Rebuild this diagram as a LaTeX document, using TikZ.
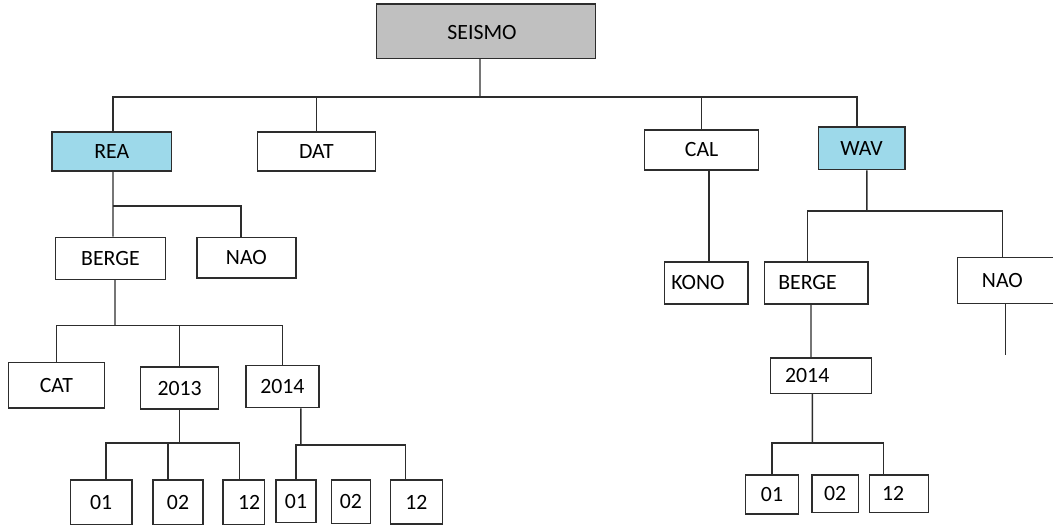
\documentclass[tikz,border=0pt]{standalone}
\usepackage{fontspec}
\setmainfont{Carlito}
\definecolor{rootgrey}{RGB}{192,192,192}
\definecolor{keyblue}{RGB}{157,217,234}
\definecolor{edgegrey}{RGB}{45,45,45}
\tikzset{
  dirbox/.style={draw=edgegrey, line width=1pt, inner sep=0pt},
  keybox/.style={dirbox, fill=keyblue},
  rootbox/.style={dirbox, fill=rootgrey},
  wire/.style={draw=edgegrey, line width=1pt}
}
\begin{document}
\begin{tikzpicture}[font=\fontsize{15.5}{18}\selectfont]
  \useasboundingbox (0,0) rectangle (26.325,-13.25);
  \clip (0,0) rectangle (26.325,-13.25);

  % top level
  \node[rootbox, minimum width=5.47cm, minimum height=1.36cm, label={[xshift=-1mm, yshift=-0.3mm]center:SEISMO}] (seismo) at (12.15,-0.78) {};
  \node[keybox, minimum width=2.98cm, minimum height=0.98cm] (rea) at (2.795,-3.79) {REA};
  \node[dirbox, minimum width=2.94cm, minimum height=0.98cm] (dat) at (7.91,-3.79) {DAT};
  \node[dirbox, minimum width=2.85cm, minimum height=0.99cm] (cal) at (17.54,-3.75) {CAL};
  \node[keybox, minimum width=2.17cm, minimum height=1.06cm] (wav) at (21.54,-3.71) {WAV};

  % REA branch
  \node[dirbox, minimum width=2.75cm, minimum height=1.05cm] (berge1) at (2.76,-6.46) {BERGE};
  \node[dirbox, minimum width=2.48cm, minimum height=1.01cm] (nao1) at (6.16,-6.44) {NAO};
  \node[dirbox, minimum width=2.4cm, minimum height=1.14cm] (cat) at (1.41,-9.63) {CAT};
  \node[dirbox, minimum width=1.95cm, minimum height=1.05cm] (y2013a) at (4.49,-9.7) {2013};
  \node[dirbox, minimum width=1.83cm, minimum height=1.06cm] (y2014a) at (7.06,-9.66) {2014};
  \node[dirbox, minimum width=1.53cm, minimum height=1.11cm] (m01a) at (2.53,-12.55) {01};
  \node[dirbox, minimum width=1.25cm, minimum height=1.11cm] (m02a) at (4.45,-12.55) {02};
  \node[dirbox, minimum width=1.03cm, minimum height=1.11cm, label={[xshift=1.4mm]center:12}] (m12a) at (6.09,-12.55) {};
  \node[dirbox, minimum width=1.0cm, minimum height=1.07cm] (m01b) at (7.4,-12.53) {01};
  \node[dirbox, minimum width=0.98cm, minimum height=1.08cm] (m02b) at (8.77,-12.54) {02};
  \node[dirbox, minimum width=1.3cm, minimum height=1.1cm] (m12b) at (10.41,-12.55) {12};

  % CAL and WAV branches
  \node[dirbox, minimum width=2.09cm, minimum height=1.05cm, label={[xshift=-2mm]center:KONO}] (kono) at (17.65,-7.07) {};
  \node[dirbox, minimum width=2.59cm, minimum height=1.05cm, label={[xshift=-2.1mm]center:BERGE}] (berge2) at (20.4,-7.07) {};
  \node[dirbox, minimum width=2.82cm, minimum height=1.16cm, label={[xshift=-2.8mm]center:NAO}] (nao2) at (25.34,-7.01) {};
  \node[dirbox, minimum width=2.52cm, minimum height=0.89cm, label={[xshift=-3.4mm]center:2014}] (y2014b) at (20.52,-9.39) {};
  \node[dirbox, minimum width=1.33cm, minimum height=0.98cm] (m01c) at (19.3,-12.36) {01};
  \node[dirbox, minimum width=1.17cm, minimum height=0.93cm] (m02c) at (20.88,-12.34) {02};
  \node[dirbox, minimum width=1.48cm, minimum height=0.93cm, label={[xshift=-1.4mm]center:12}] (m12c) at (22.47,-12.34) {};

  % junctions
  \coordinate (j0) at (12.0,-2.42);
  \coordinate (j1) at (2.825,-5.15);
  \coordinate (j2) at (2.875,-8.13);
  \coordinate (j3) at (4.49,-11.07);
  \coordinate (j3b) at (4.2,-11.07);
  \coordinate (j4) at (7.52,-11.12);
  \coordinate (j5) at (21.67,-5.27);
  \coordinate (j6) at (20.31,-11.07);
  \coordinate (naoend) at (25.13,-8.87);

  % connectors
  \draw[wire] ([xshift=-1.5mm]seismo.south) -- (j0);
  \draw[wire] ([xshift=0.3mm]rea.north) |- (j0) -| ([xshift=-1.2mm]wav.north);
  \draw[wire] (dat.north) -- (dat.north |- j0);
  \draw[wire] (cal.north) -- (cal.north |- j0);

  \draw[wire] ([xshift=0.3mm]rea.south) -- ([xshift=0.65mm]berge1.north);
  \draw[wire] (j1) -| ([xshift=-1.35mm]nao1.north);
  \draw[wire] ([xshift=1.15mm]berge1.south) -- (j2);
  \draw[wire] (cat.north) |- (j2) -| (y2014a.north);
  \draw[wire] (y2013a.north) -- (y2013a.north |- j2);

  \draw[wire] (y2013a.south) -- (j3);
  \draw[wire] ([xshift=1.2mm]m01a.north) |- (j3) -| ([xshift=-1.1mm]m12a.north);
  \draw[wire] (j3b) -- (j3b |- m02a.north);
  \draw[wire] ([xshift=4.6mm]y2014a.south) -- (j4);
  \draw[wire] (m01b.north) |- (j4) -| ([xshift=-2.7mm]m12b.north);

  \draw[wire] ([xshift=1.8mm]cal.south) -- ([xshift=0.7mm]kono.north);
  \draw[wire] ([xshift=1.3mm]wav.south) -- (j5);
  \draw[wire] ([xshift=-2.1mm]berge2.north) |- (j5) -| ([xshift=-2.8mm]nao2.north);
  \draw[wire] (naoend |- nao2.south) -- (naoend);
  \draw[wire] ([xshift=-1.25mm]berge2.south) -- ([xshift=-2.45mm]y2014b.north);
  \draw[wire] ([xshift=-2.1mm]y2014b.south) -- (j6);
  \draw[wire] (m01c.north) |- (j6) -| ([xshift=-3.9mm]m12c.north);
\end{tikzpicture}
\end{document}
